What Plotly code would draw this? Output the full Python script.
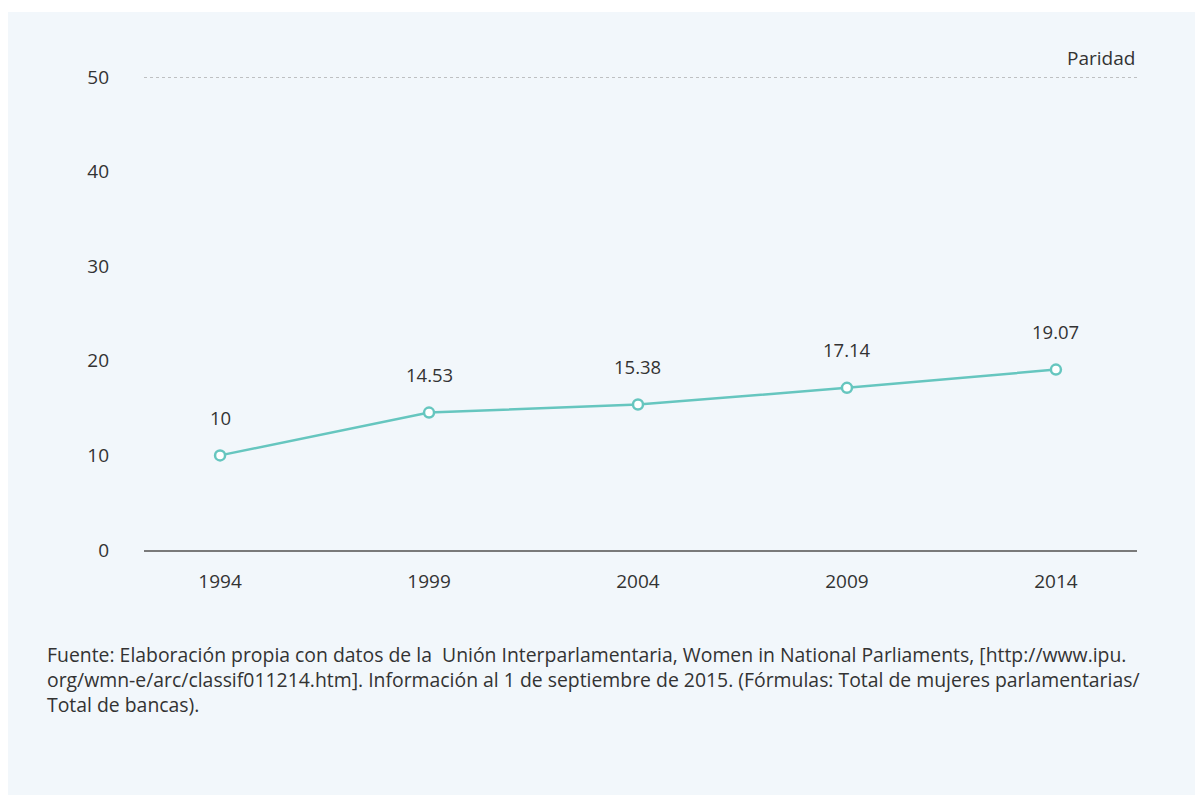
import plotly.graph_objects as go

# Porcentaje de mujeres en parlamentos nacionales
years = ["1994", "1999", "2004", "2009", "2014"]
share = [10, 14.53, 15.38, 17.14, 19.07]
y_ticks = [0, 10, 20, 30, 40, 50]
parity_level = 50

footnote_lines = [
    "Fuente: Elaboración propia con datos de la  Unión Interparlamentaria, Women in National Parliaments, [http://www.ipu.",
    "org/wmn-e/arc/classif011214.htm]. Información al 1 de septiembre de 2015. (Fórmulas: Total de mujeres parlamentarias/",
    "Total de bancas).",
]

W, H = 1195, 795
ML, MR, MT, MB = 144, 58, 77, 245
PW, PH = W - ML - MR, H - MT - MB

TEAL = "#66c6bf"
TEXT = "#333333"
FONT = "Open Sans"


def px_x(p):
    return (p - ML) / PW


def px_y(p):
    return (H - MB - p) / PH


fig = go.Figure()

fig.add_trace(go.Scatter(
    x=years, y=share, mode="lines+markers",
    line=dict(color=TEAL, width=2.5),
    marker=dict(size=10, color="white", line=dict(color=TEAL, width=2.5)),
    hoverinfo="skip", showlegend=False,
))

# value labels above each point (category axis -> use the category index)
for i, v in enumerate(share):
    fig.add_annotation(
        x=i, y=v, text=f"{v:g}", showarrow=False,
        yshift=38, font=dict(family=FONT, size=18.5, color=TEXT),
    )

shapes = [
    # light panel behind the chart
    dict(type="rect", xref="paper", yref="paper",
         x0=px_x(8), x1=px_x(W + 5), y0=px_y(H + 5), y1=px_y(12),
         fillcolor="#f2f7fb", line=dict(width=0), layer="below"),
    # parity reference line
    dict(type="line", xref="paper", yref="y",
         x0=0, x1=1, y0=parity_level, y1=parity_level,
         line=dict(color="#8a8a8a", width=1.2, dash="dot")),
]

fig.add_annotation(
    xref="paper", yref="y", x=1, y=parity_level, text="Paridad",
    xanchor="right", yanchor="bottom", yshift=4, showarrow=False,
    font=dict(family=FONT, size=19, color=TEXT),
)

# source note as one left-aligned block
fig.add_annotation(
    xref="paper", yref="paper", x=px_x(45), y=px_y(639),
    text="<br>".join(footnote_lines), align="left",
    xanchor="left", yanchor="top", showarrow=False,
    font=dict(family=FONT, size=19.4, color=TEXT),
)

fig.update_layout(
    width=W, height=H,
    margin=dict(l=ML, r=MR, t=MT, b=MB),
    paper_bgcolor="white", plot_bgcolor="rgba(0,0,0,0)",
    shapes=shapes,
    font=dict(family=FONT, color=TEXT),
    xaxis=dict(
        type="category", range=[-0.364, 4.388],
        showgrid=False, zeroline=False,
        showline=True, linecolor="#7a7a7a", linewidth=1.5,
        ticks="", ticklabelstandoff=13,
        tickfont=dict(family=FONT, size=19, color=TEXT),
    ),
    yaxis=dict(
        range=[0, 50], tickvals=y_ticks,
        showgrid=False, zeroline=False, showline=False,
        ticks="", ticklabelstandoff=34,
        tickfont=dict(family=FONT, size=19, color=TEXT),
    ),
)

fig.write_html("out.html")
